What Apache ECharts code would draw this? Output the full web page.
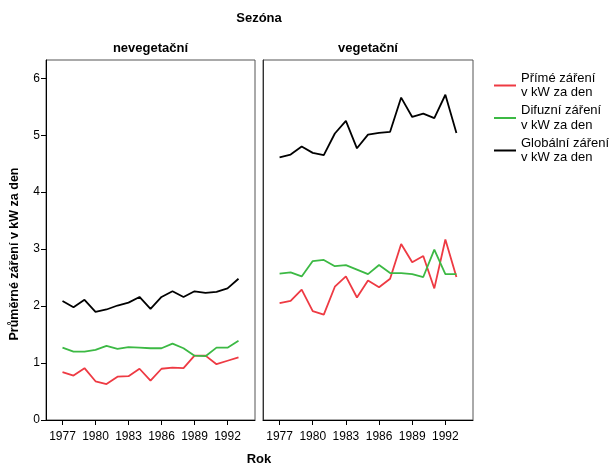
<!DOCTYPE html>
<html><head><meta charset="utf-8">
<script src="https://cdn.jsdelivr.net/npm/echarts@6/dist/echarts.min.js"></script>
<style>html,body{margin:0;padding:0;background:#fff}#c{width:613px;height:463px}</style>
</head><body><div id="c"></div>
<script>
const years = [1977,1978,1979,1980,1981,1982,1983,1984,1985,1986,1987,1988,1989,1990,1991,1992,1993];
const tickYears = [1977,1980,1983,1986,1989,1992];
const yTicks = [0,1,2,3,4,5,6];
const panels = ['nevegetační','vegetační'];
const seriesNames = ['Přímé záření\nv kW za den','Difuzní záření\nv kW za den','Globální záření\nv kW za den'];
// nevegetační
const primeNeveg = [0.84,0.78,0.91,0.68,0.63,0.76,0.77,0.90,0.69,0.90,0.92,0.91,1.13,1.13,0.98,1.04,1.10];
const difuzNeveg = [1.27,1.20,1.20,1.23,1.30,1.25,1.28,1.27,1.26,1.26,1.34,1.26,1.13,1.12,1.27,1.27,1.39];
const globNeveg  = [2.09,1.98,2.11,1.90,1.94,2.01,2.06,2.16,1.95,2.16,2.26,2.16,2.26,2.23,2.25,2.31,2.48];
// vegetační
const primeVeg = [2.05,2.09,2.29,1.91,1.85,2.34,2.52,2.15,2.45,2.33,2.48,3.09,2.77,2.88,2.31,3.17,2.51];
const difuzVeg = [2.57,2.59,2.52,2.79,2.81,2.70,2.72,2.64,2.56,2.72,2.58,2.58,2.56,2.51,2.99,2.56,2.56];
const globVeg  = [4.61,4.66,4.80,4.69,4.65,5.03,5.25,4.77,5.01,5.04,5.06,5.66,5.32,5.38,5.30,5.71,5.04];

const colors = ['#ee3a43','#3cb944','#000000'];
const font = 'Liberation Sans, Arial, sans-serif';
const pairs = v => years.map((y,i)=>[y,v[i]]);

const grids = [
  {left:46, top:60, width:209, height:360, show:true, borderColor:'#555', borderWidth:1},
  {left:263, top:60, width:210, height:360, show:true, borderColor:'#555', borderWidth:1}
];
const xAxes = [0,1].map(g=>({
  type:'value', gridIndex:g, min:1975.5, max:1994.5,
  axisLine:{show:true, lineStyle:{color:'#000', width:1}},
  axisTick:{show:true, customValues:tickYears, length:5, lineStyle:{color:'#000'}},
  axisLabel:{show:true, customValues:tickYears, color:'#000', fontFamily:font, fontSize:12, margin:11,
             formatter: v => String(v)},
  splitLine:{show:false}
}));
const yAxes = [0,1].map(g=>({
  type:'value', gridIndex:g, min:0, max:6.32,
  axisLine:{show:true, lineStyle:{color: g===0?'#000':'#333', width:1}},
  axisTick:{show:g===0, customValues:yTicks, length:5, lineStyle:{color:'#000'}},
  axisLabel:{show:g===0, customValues:yTicks, color:'#000', fontFamily:font, fontSize:12, margin:6},
  splitLine:{show:false}
}));
const dataSets = [[primeNeveg,difuzNeveg,globNeveg],[primeVeg,difuzVeg,globVeg]];
const series = [];
[0,1].forEach(g=>{
  dataSets[g].forEach((d,k)=>{
    series.push({
      type:'line', name:seriesNames[k], xAxisIndex:g, yAxisIndex:g,
      data:pairs(d), showSymbol:false, symbol:'none',
      lineStyle:{color:colors[k], width:1.8}, itemStyle:{color:colors[k]},
      animation:false
    });
  });
});

const chart = echarts.init(document.getElementById('c'), null, {renderer:'canvas'});
chart.setOption({
  animation:false,
  backgroundColor:'#fff',
  grid:grids, xAxis:xAxes, yAxis:yAxes, series:series,
  legend:{
    orient:'vertical', left:494, top:71, padding:0, itemGap:3.5, itemWidth:22, itemHeight:2,
    icon:'rect',
    data:seriesNames,
    textStyle:{fontFamily:font, fontSize:13, color:'#000', lineHeight:14.5}
  },
  graphic:[
    {type:'text', x:259, y:18, style:{text:'Sezóna', font:'bold 13px '+font, fill:'#000', textAlign:'center', textVerticalAlign:'middle'}},
    {type:'text', x:150.5, y:48, style:{text:panels[0], font:'bold 13px '+font, fill:'#000', textAlign:'center', textVerticalAlign:'middle'}},
    {type:'text', x:368, y:48, style:{text:panels[1], font:'bold 13px '+font, fill:'#000', textAlign:'center', textVerticalAlign:'middle'}},
    {type:'text', x:259, y:459, style:{text:'Rok', font:'bold 13px '+font, fill:'#000', textAlign:'center', textVerticalAlign:'middle'}},
    {type:'text', x:15, y:254, rotation:Math.PI/2, style:{text:'Průměrné záření v kW za den', font:'bold 12.5px '+font, fill:'#000', textAlign:'center', textVerticalAlign:'middle'}}
  ]
});
</script></body></html>
